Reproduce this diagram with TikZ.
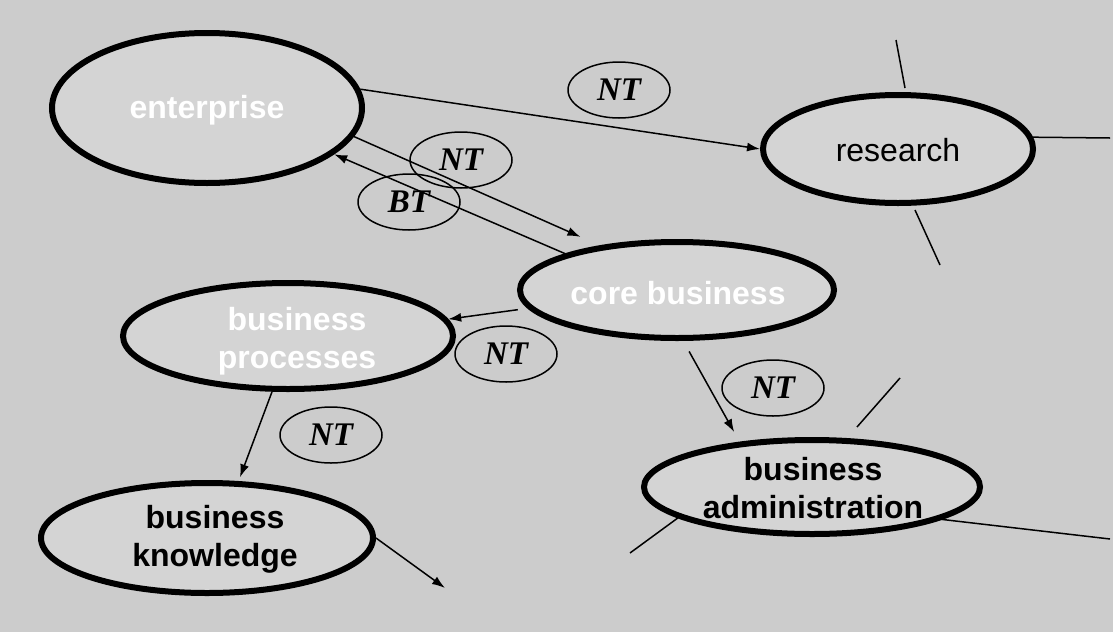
\documentclass[tikz,border=0pt]{standalone}
\usepackage{fontspec}
\setmainfont{Liberation Sans}
\newfontfamily\timesf{Liberation Serif}
\usetikzlibrary{shapes.geometric,arrows.meta}
\definecolor{bgc}{RGB}{204,204,204}
\definecolor{innerc}{RGB}{212,212,212}
\begin{document}
\begin{tikzpicture}[x=1pt,y=-1pt,
  bigell/.style={ellipse, draw=black, line width=6pt, fill=innerc, inner sep=0pt},
  smallell/.style={ellipse, draw=black, line width=1.5pt, inner sep=0pt, minimum width=102pt, minimum height=56pt},
  wlabel/.style={font=\fontsize{32}{38}\selectfont\bfseries, text=white, align=center, inner sep=0pt},
  blabel/.style={font=\fontsize{32}{38}\selectfont\bfseries, text=black, align=center, inner sep=0pt},
  rlabel/.style={font=\fontsize{32}{38}\selectfont, text=black, inner sep=0pt},
  rel/.style={font=\timesf\fontsize{33}{36}\selectfont\bfseries\itshape},
  conn/.style={line width=1.5pt, -{Latex[length=13pt,width=9pt]}},
  plain/.style={line width=1.5pt}]
\useasboundingbox (0,0) rectangle (1113,632);
\fill[bgc] (0,0) rectangle (1113,632);

% main ellipses
\node[bigell, minimum width=310pt, minimum height=150pt] (ent) at (207,108) {};
\node[bigell, minimum width=270pt, minimum height=108pt] (res) at (898,149) {};
\node[bigell, minimum width=314pt, minimum height=96pt] (core) at (677,290) {};
\node[bigell, minimum width=330pt, minimum height=106pt] (proc) at (288,336) {};
\node[bigell, minimum width=332pt, minimum height=110pt] (know) at (207,538) {};
\node[bigell, minimum width=336pt, minimum height=94pt] (admin) at (812,487) {};

% relation labels
\node[smallell, rel] (nt1) at (619,90) {NT};
\node[smallell, rel] (nt2) at (461,160) {NT};
\node[smallell, rel] (bt1) at (409,202) {BT};
\node[smallell, rel] (nt3) at (506,354) {NT};
\node[smallell, rel] (nt4) at (331,435) {NT};
\node[smallell, rel] (nt5) at (773,388) {NT};

% connectors
\draw[conn] (ent.7) -- (res.west);
\draw[conn, shorten >=21pt] (ent.-11) -- (core.150);
\draw[conn] (core.162) -- (ent.-20);
\draw[conn, shorten <=10pt] (core.187) -- (proc.6);
\draw[conn, shorten >=4pt] (proc.-106) -- (know.61);
\draw[conn, shorten <=12pt, shorten >=11pt] (core.-83) -- (admin.148);
\coordinate (kend) at (445,588);
\draw[conn] (know.east) -- (kend);

% stray line fragments
\coordinate (s1a) at (896,40);
\coordinate (s1b) at (905,88);
\draw[plain] (s1a) -- (s1b);
\coordinate (s2) at (1110,138);
\draw[plain] (res.5) -- (s2);
\coordinate (s3a) at (915,210);
\coordinate (s3b) at (940,265);
\draw[plain] (s3a) -- (s3b);
\coordinate (s4a) at (857,427);
\coordinate (s4b) at (900,378);
\draw[plain] (s4a) -- (s4b);
\coordinate (s5) at (630,553);
\draw[plain] (s5) -- (admin.193);
\coordinate (s6) at (1110,539);
\draw[plain] (admin.-14) -- (s6);

% texts
\node[wlabel] (entT) at (207,110) {enterprise};
\node[rlabel] (resT) at (898,150) {research};
\node[wlabel] (coreT) at (678,293) {core business};
\node[wlabel] (procT) at (297,341) {business\\processes};
\node[blabel] (knowT) at (215,539) {business\\knowledge};
\node[blabel] (adminT) at (813,488) {business\\administration};
\end{tikzpicture}
\end{document}
